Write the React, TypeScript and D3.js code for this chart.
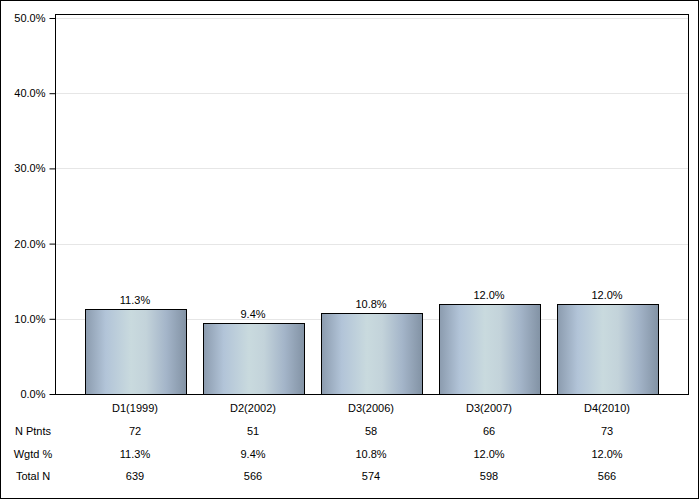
import { useRef, useEffect } from "react";
import * as d3 from 'd3';

const categories = ['D1(1999)', 'D2(2002)', 'D3(2006)', 'D3(2007)', 'D4(2010)'];
const values = [11.3, 9.4, 10.8, 12.0, 12.0];
const nPatients = ['72', '51', '58', '66', '73'];
const wgtdPct = ['11.3%', '9.4%', '10.8%', '12.0%', '12.0%'];
const totalN = ['639', '566', '574', '598', '566'];
const rowLabels = ['N Ptnts', 'Wgtd %', 'Total N'];
const yTicks = [0, 10, 20, 30, 40, 50];

const font = 'Arial, "Liberation Sans", sans-serif';

function App() {
    const ref = useRef<SVGSVGElement>(null);

    useEffect(() => {
        const svg = d3.select(ref.current);
        svg.selectAll('*').remove();

        const left = 55, right = 688, top = 14, bottom = 394;

        // gradient for the bars
        const grad = svg.append('defs').append('linearGradient')
            .attr('id', 'barGrad')
            .attr('x1', '0%').attr('x2', '100%').attr('y1', '0%').attr('y2', '0%');
        [[0, '#8b9bae'], [0.2, '#b2c4d8'], [0.45, '#c9dade'], [0.6, '#c3d3da'], [0.8, '#a4b5c9'], [1, '#8292a4']]
            .forEach(([o, c]) => grad.append('stop').attr('offset', o as number).attr('stop-color', c as string));

        // outer border
        svg.append('rect')
            .attr('x', 0.5).attr('y', 0.5).attr('width', 698).attr('height', 498)
            .attr('fill', 'white').attr('stroke', 'black');

        const y = d3.scaleLinear().domain([0, 50]).range([bottom, 18]);
        const x = d3.scaleBand()
            .domain(categories)
            .range([76, 666])
            .paddingInner(0.145)
            .paddingOuter(0.0725);

        // gridlines
        svg.append('g').selectAll('line')
            .data(yTicks.filter(t => t > 0))
            .join('line')
            .attr('x1', left).attr('x2', right)
            .attr('y1', d => Math.round(y(d)) + 0.5).attr('y2', d => Math.round(y(d)) + 0.5)
            .attr('stroke', '#e6e6e6');

        // y axis
        const yAxis = svg.append('g')
            .attr('transform', `translate(${left + 0.5},0)`)
            .call(d3.axisLeft(y).tickValues(yTicks).tickSize(6).tickPadding(4).tickFormat(d => `${(+d).toFixed(1)}%`));
        yAxis.select('.domain').remove();
        yAxis.selectAll('line').attr('stroke', 'black');
        yAxis.selectAll('text').attr('font-family', font).attr('font-size', 11).attr('fill', 'black');

        // bars
        svg.append('g').selectAll('rect')
            .data(values)
            .join('rect')
            .attr('x', (d, i) => Math.round(x(categories[i])!) + 0.5)
            .attr('y', d => Math.round(y(d)) + 0.5)
            .attr('width', Math.round(x.bandwidth()))
            .attr('height', d => Math.round(bottom - y(d)))
            .attr('fill', 'url(#barGrad)')
            .attr('stroke', 'black');

        // value labels
        svg.append('g').selectAll('text')
            .data(values)
            .join('text')
            .attr('x', (d, i) => x(categories[i])! + x.bandwidth() / 2)
            .attr('y', d => y(d) - 5)
            .attr('text-anchor', 'middle')
            .attr('font-family', font).attr('font-size', 11)
            .text(d => `${d.toFixed(1)}%`);

        // plot frame
        svg.append('rect')
            .attr('x', left + 0.5).attr('y', top + 0.5)
            .attr('width', right - left).attr('height', bottom - top)
            .attr('fill', 'none').attr('stroke', 'black');

        // table below
        const rows = [categories, nPatients, wgtdPct, totalN];
        const rowY = [408, 431, 454, 476];
        rows.forEach((row, r) => {
            svg.append('g').selectAll('text')
                .data(row)
                .join('text')
                .attr('x', (d, i) => x(categories[i])! + x.bandwidth() / 2)
                .attr('y', rowY[r])
                .attr('dy', '0.35em')
                .attr('text-anchor', 'middle')
                .attr('font-family', font).attr('font-size', 11)
                .text(d => d);
        });
        svg.append('g').selectAll('text')
            .data(rowLabels)
            .join('text')
            .attr('x', 33)
            .attr('y', (d, i) => rowY[i + 1])
            .attr('dy', '0.35em')
            .attr('text-anchor', 'middle')
            .attr('font-family', font).attr('font-size', 11)
            .text(d => d);
    }, []);

    return (
        <svg ref={ref} width={700} height={500} style={{ position: 'absolute', left: 0, top: 0, display: 'block' }}>
        </svg>
    );
}

export default App;
